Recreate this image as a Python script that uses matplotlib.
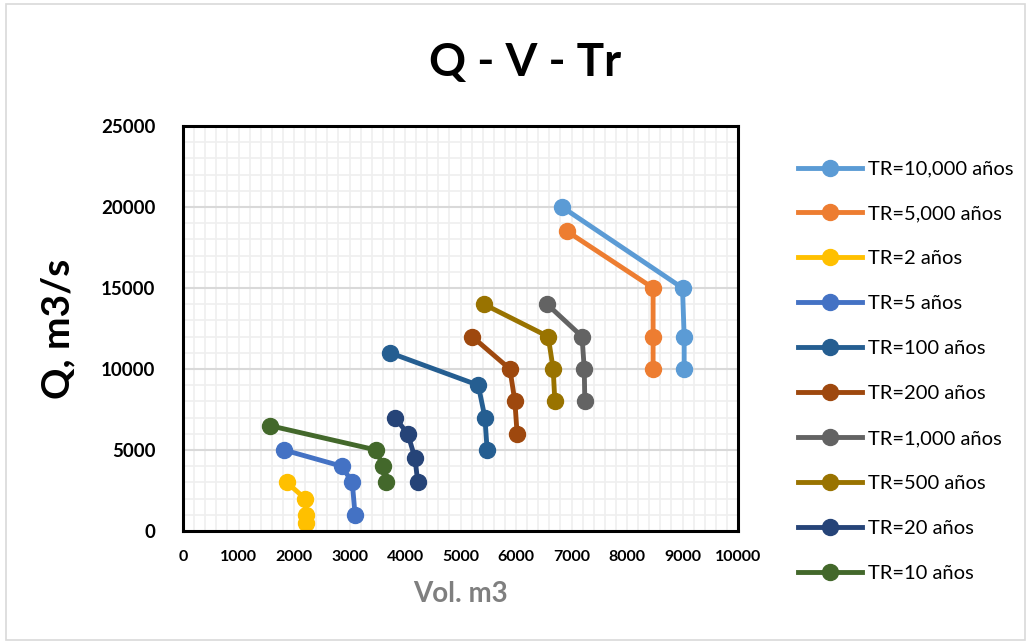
import numpy as np
import matplotlib.pyplot as plt
from matplotlib.ticker import MultipleLocator

# ------------------------------------------------
# Datos: volumen (m3) y caudal (m3/s) por periodo de retorno
# ------------------------------------------------
labels = ["TR=10,000 años", "TR=5,000 años", "TR=2 años", "TR=5 años",
          "TR=100 años", "TR=200 años", "TR=1,000 años", "TR=500 años",
          "TR=20 años", "TR=10 años"]

vol_10000 = [6830, 9000, 9030, 9030]
q_10000 = [20000, 15000, 12000, 10000]
vol_5000 = [6920, 8470, 8470, 8470]
q_5000 = [18500, 15000, 12000, 10000]
vol_2 = [1870, 2200, 2210, 2210]
q_2 = [3000, 2000, 1000, 500]
vol_5 = [1820, 2860, 3050, 3100]
q_5 = [5000, 4000, 3000, 1000]
vol_100 = [3730, 5320, 5440, 5480]
q_100 = [11000, 9000, 7000, 5000]
vol_200 = [5210, 5890, 5980, 6020]
q_200 = [12000, 10000, 8000, 6000]
vol_1000 = [6560, 7190, 7230, 7240]
q_1000 = [14000, 12000, 10000, 8000]
vol_500 = [5420, 6580, 6670, 6700]
q_500 = [14000, 12000, 10000, 8000]
vol_20 = [3820, 4050, 4180, 4230]
q_20 = [7000, 6000, 4500, 3000]
vol_10 = [1570, 3480, 3600, 3660]
q_10 = [6500, 5000, 4000, 3000]

series = [(vol_10000, q_10000), (vol_5000, q_5000), (vol_2, q_2), (vol_5, q_5),
          (vol_100, q_100), (vol_200, q_200), (vol_1000, q_1000), (vol_500, q_500),
          (vol_20, q_20), (vol_10, q_10)]

colores = ["#5B9BD5", "#ED7D31", "#FFC000", "#4472C4", "#255E91",
           "#9E480E", "#636363", "#997300", "#264478", "#43682B"]

plt.rcParams['font.family'] = ['Lato', 'DejaVu Sans']

fig = plt.figure(figsize=(10.31, 6.44), dpi=100)
ax = fig.add_axes([183 / 1031, 1 - 531 / 644, 555 / 1031, 405 / 644])

for (v, q), lab, c in zip(series, labels, colores):
    ax.plot(v, q, color=c, linewidth=3.5, marker='o', markersize=11.5, label=lab)

ax.set_xlim(0, 10000)
ax.set_ylim(0, 25000)
ax.xaxis.set_major_locator(MultipleLocator(1000))
ax.yaxis.set_major_locator(MultipleLocator(5000))
ax.xaxis.set_minor_locator(MultipleLocator(200))
ax.yaxis.set_minor_locator(MultipleLocator(1000))
ax.grid(which='minor', color='#efefef', linewidth=1.2)
ax.grid(which='major', axis='x', color='#efefef', linewidth=1.2)
ax.grid(which='major', axis='y', color='#d9d9d9', linewidth=1.5)
ax.set_axisbelow(True)
ax.tick_params(which='both', length=0)
ax.tick_params(axis='x', labelsize=11.5, pad=14)
ax.tick_params(axis='y', labelsize=13.5, pad=20)
for lbl in ax.get_xticklabels() + ax.get_yticklabels():
    lbl.set_fontweight('bold')
for s in ax.spines.values():
    s.set_linewidth(2.2)
    s.set_color('black')

ax.set_xlabel("Vol. m3", fontsize=20, fontweight='bold', color='#7f7f7f', labelpad=12)
ax.set_ylabel("Q, m3/s", fontsize=28, fontweight='bold', labelpad=18)
fig.text(0.509, 0.902, "Q - V - Tr", fontsize=33, fontweight='bold', ha='center', va='center')

leg = ax.legend(loc='center left', bbox_to_anchor=(1.075, 0.395), frameon=False,
                fontsize=14.5, handlelength=3.2, labelspacing=1.38, handletextpad=0.3)

# borde del área del gráfico
fig.patches.append(plt.Rectangle((0.006, 0.006), 0.988, 0.988, transform=fig.transFigure,
                                 fill=False, edgecolor='#d9d9d9', linewidth=1.2))

plt.savefig("out.png", dpi=100)
